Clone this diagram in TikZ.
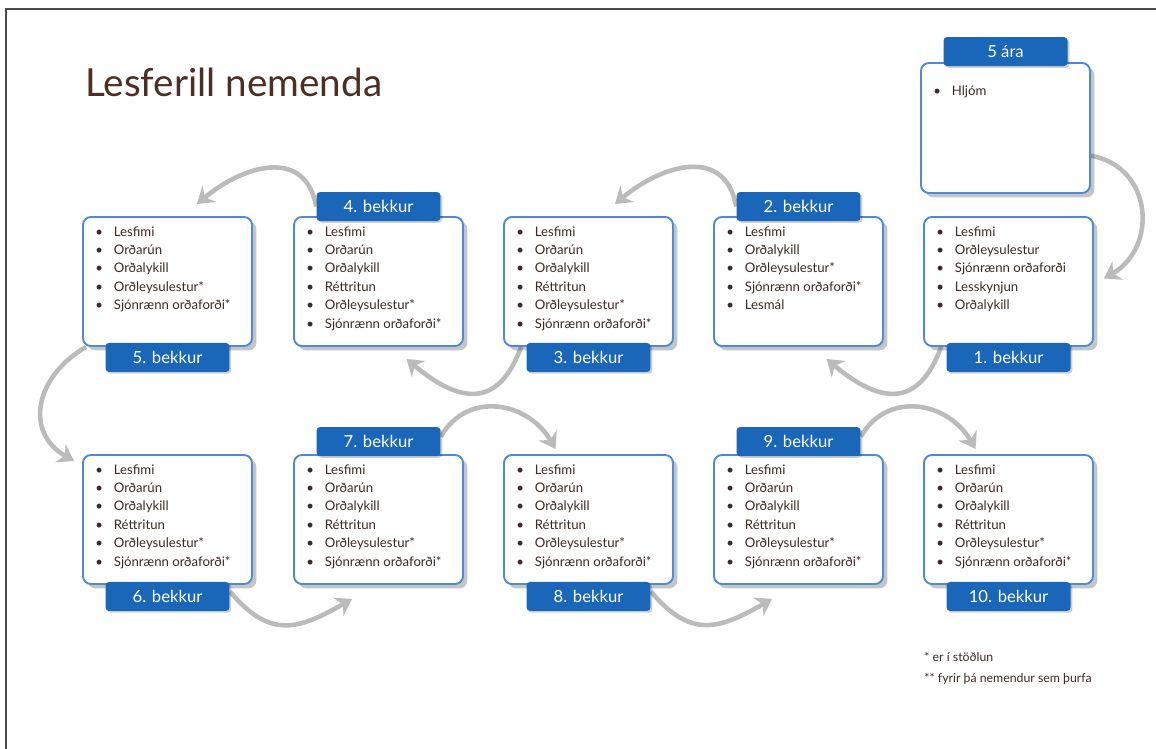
\documentclass[tikz,border=0pt]{standalone}
\usepackage{fontspec}
\setmainfont{Lato}
\usetikzlibrary{arrows.meta,shadows,backgrounds}
\definecolor{tagblue}{HTML}{1A66B8}
\definecolor{boxblue}{HTML}{4F8AD6}
\definecolor{flowgray}{HTML}{BBBBBB}
\definecolor{itembrown}{HTML}{3B2B26}
\definecolor{titlebrown}{HTML}{4B2E24}
\newcommand{\bul}{\makebox[0.37cm][l]{\textbullet}}

\begin{document}
\begin{tikzpicture}[x=0.02cm, y=0.02cm,
    box/.style={draw=boxblue, line width=1.1pt, fill=white, rounded corners=4.5pt,
      minimum width=3.38cm, minimum height=2.58cm, inner sep=0pt,
      drop shadow={shadow xshift=2.5pt, shadow yshift=-2.5pt, opacity=0.3, fill=black!75}},
    tag/.style={fill=tagblue, rounded corners=2pt, minimum width=2.48cm, minimum height=0.58cm,
      inner sep=0pt, text=white, font=\fontsize{9.5}{11}\selectfont,
      drop shadow={shadow xshift=1pt, shadow yshift=-1pt, opacity=0.2, fill=black}},
    list/.style={anchor=north west, inner sep=0pt, align=left, text=itembrown,
      font=\fontsize{7.5}{10.5}\selectfont},
    flow/.style={draw=flowgray, line width=2.6pt, -{Stealth[length=9pt,width=12pt,inset=3pt]}}]
  \useasboundingbox (0,0) rectangle (1156,-749);
  \draw[line width=0.8pt, black!70] (6,-749) -- (6,-9) -- (1156,-9);

  \node[anchor=base west, inner sep=0pt, text=titlebrown, font=\fontsize{22}{26}\selectfont] (title) at (85,-97) {Lesferill nemenda};

  % top row
  \node[box] (b0) at (1005.5,-128) [minimum height=2.6cm] {};
  \node[list] (t0) at ([shift={(13,-23)}]b0.north west) {\bul Hljóm};
  \node[tag] (l0) at ([shift={(0,10.5)}]b0.north) {5 ára};

  \node[box] (b1) at (1008.5,-281.5) {};
  \node[list] (t1) at ([shift={(13,-10)}]b1.north west) {\bul Lesfimi\\\bul Orðleysulestur\\\bul Sjónrænn orðaforði\\\bul Lesskynjun\\\bul Orðalykill};
  \node[tag] (l1) at ([shift={(0,-10.5)}]b1.south) {1. bekkur};

  \node[box] (b2) at (798.5,-281.5) {};
  \node[list] (t2) at ([shift={(13,-10)}]b2.north west) {\bul Lesfimi\\\bul Orðalykill\\\bul Orðleysulestur*\\\bul Sjónrænn orðaforði*\\\bul Lesmál};
  \node[tag] (l2) at ([shift={(0,9.5)}]b2.north) {2. bekkur};

  \node[box] (b3) at (588.5,-281.5) {};
  \node[list] (t3) at ([shift={(13,-10)}]b3.north west) {\bul Lesfimi\\\bul Orðarún\\\bul Orðalykill\\\bul Réttritun\\\bul Orðleysulestur*\\\bul Sjónrænn orðaforði*};
  \node[tag] (l3) at ([shift={(0,-10.5)}]b3.south) {3. bekkur};

  \node[box] (b4) at (378.5,-281.5) {};
  \node[list] (t4) at ([shift={(13,-10)}]b4.north west) {\bul Lesfimi\\\bul Orðarún\\\bul Orðalykill\\\bul Réttritun\\\bul Orðleysulestur*\\\bul Sjónrænn orðaforði*};
  \node[tag] (l4) at ([shift={(0,9.5)}]b4.north) {4. bekkur};

  \node[box] (b5) at (167.5,-281.5) {};
  \node[list] (t5) at ([shift={(13,-10)}]b5.north west) {\bul Lesfimi\\\bul Orðarún\\\bul Orðalykill\\\bul Orðleysulestur*\\\bul Sjónrænn orðaforði*};
  \node[tag] (l5) at ([shift={(0,-10.5)}]b5.south) {5. bekkur};

  % bottom row
  \node[box] (b6) at (167.5,-519.5) {};
  \node[list] (t6) at ([shift={(13,-10)}]b6.north west) {\bul Lesfimi\\\bul Orðarún\\\bul Orðalykill\\\bul Réttritun\\\bul Orðleysulestur*\\\bul Sjónrænn orðaforði*};
  \node[tag] (l6) at ([shift={(0,-11.5)}]b6.south) {6. bekkur};

  \node[box] (b7) at (378.5,-519.5) {};
  \node[list] (t7) at ([shift={(13,-10)}]b7.north west) {\bul Lesfimi\\\bul Orðarún\\\bul Orðalykill\\\bul Réttritun\\\bul Orðleysulestur*\\\bul Sjónrænn orðaforði*};
  \node[tag] (l7) at ([shift={(0,12.5)}]b7.north) {7. bekkur};

  \node[box] (b8) at (588.5,-519.5) {};
  \node[list] (t8) at ([shift={(13,-10)}]b8.north west) {\bul Lesfimi\\\bul Orðarún\\\bul Orðalykill\\\bul Réttritun\\\bul Orðleysulestur*\\\bul Sjónrænn orðaforði*};
  \node[tag] (l8) at ([shift={(0,-11.5)}]b8.south) {8. bekkur};

  \node[box] (b9) at (798.5,-519.5) {};
  \node[list] (t9) at ([shift={(13,-10)}]b9.north west) {\bul Lesfimi\\\bul Orðarún\\\bul Orðalykill\\\bul Réttritun\\\bul Orðleysulestur*\\\bul Sjónrænn orðaforði*};
  \node[tag] (l9) at ([shift={(0,12.5)}]b9.north) {9. bekkur};

  \node[box] (b10) at (1008.5,-519.5) {};
  \node[list] (t10) at ([shift={(13,-10)}]b10.north west) {\bul Lesfimi\\\bul Orðarún\\\bul Orðalykill\\\bul Réttritun\\\bul Orðleysulestur*\\\bul Sjónrænn orðaforði*};
  \node[tag] (l10) at ([shift={(0,-11.5)}]b10.south) {10. bekkur};

  \node[anchor=north west, inner sep=0pt, align=left, text=itembrown, font=\fontsize{7}{12}\selectfont] (note) at (924,-652) {* er í stöðlun\\** fyrir þá nemendur sem þurfa};

  % arrows behind the boxes
  \begin{scope}[on background layer]
    \draw[flow] (b0.-18) to[out=-10, in=30, looseness=1.3] ([shift={(10,3)}]b1.east);
    \draw[flow] ([shift={(18,0)}]b1.south west) to[out=-110, in=-40, looseness=1.5] ([shift={(28,-12)}]b2.south);
    \draw[flow] (l2.west) to[out=100, in=40, looseness=1.3] ([shift={(26.5,12)}]b3.north);
    \draw[flow] ([shift={(18,0)}]b3.south west) to[out=-110, in=-40, looseness=1.5] ([shift={(28,-12)}]b4.south);
    \draw[flow] (l4.west) to[out=100, in=40, looseness=1.3] ([shift={(29.5,12)}]b5.north);
    \draw[flow] ([shift={(4,0)}]b5.south west) to[out=-150, in=150, looseness=1.3] ([shift={(-8,-7)}]b6.north west);
    \draw[flow] ([shift={(0,5)}]l6.east) to[out=-50, in=-150, looseness=1.3] ([shift={(-26.5,-14)}]b7.south);
    \draw[flow] ([shift={(0,5)}]l7.east) to[out=60, in=120, looseness=1.2] ([shift={(-33,5)}]b8.north);
    \draw[flow] ([shift={(0,5)}]l8.east) to[out=-50, in=-150, looseness=1.3] ([shift={(-26.5,-14)}]b9.south);
    \draw[flow] ([shift={(0,5)}]l9.east) to[out=60, in=120, looseness=1.2] ([shift={(-33,5)}]b10.north);
  \end{scope}
\end{tikzpicture}
\end{document}
